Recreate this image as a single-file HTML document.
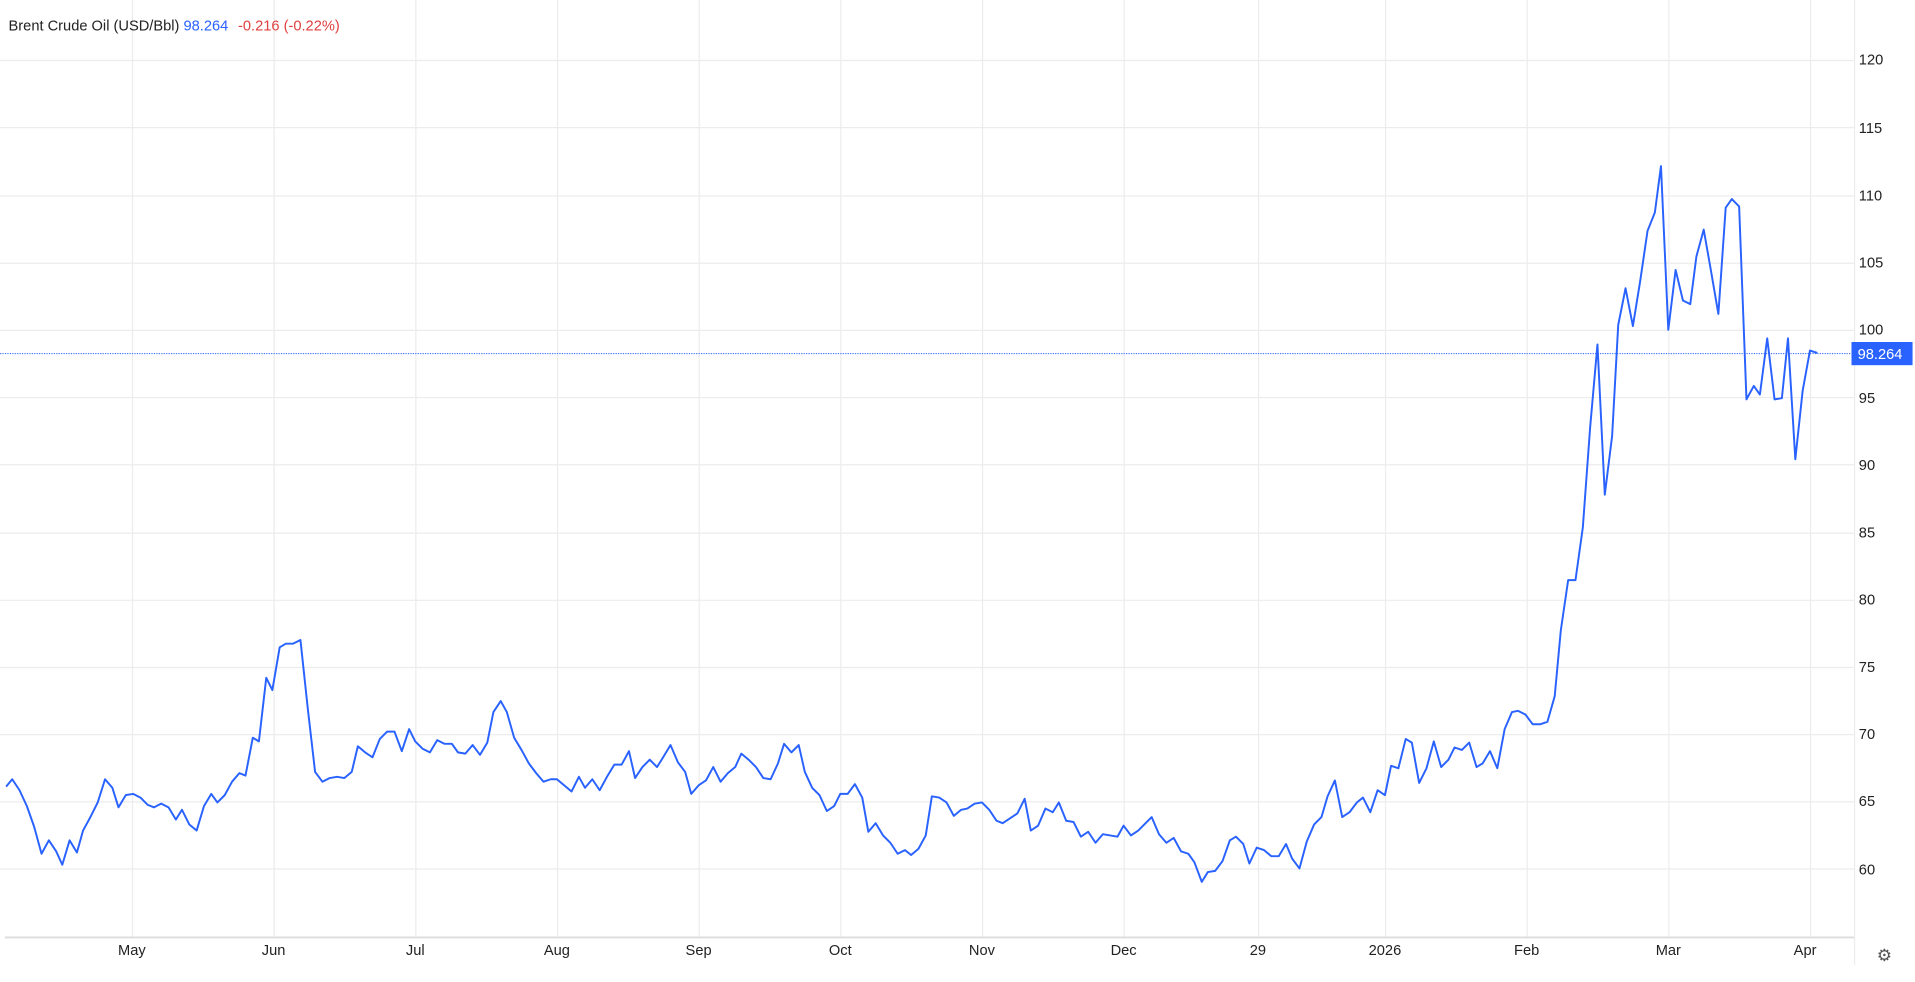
<!DOCTYPE html>
<html><head><meta charset="utf-8"><style>
html,body{margin:0;padding:0;background:#fff;width:1915px;height:982px;overflow:hidden}
svg{display:block}
text{font-family:"Liberation Sans",Arial,sans-serif}
</style></head><body>
<svg width="1915" height="982" viewBox="0 0 1568 804" preserveAspectRatio="none">
<g stroke="#ececec" stroke-width="1">
<line x1="0" x2="1518" y1="49.5" y2="49.5"/><line x1="0" x2="1518" y1="104.5" y2="104.5"/>
<line x1="0" x2="1518" y1="160.5" y2="160.5"/><line x1="0" x2="1518" y1="215.5" y2="215.5"/>
<line x1="0" x2="1518" y1="270.5" y2="270.5"/><line x1="0" x2="1518" y1="325.5" y2="325.5"/>
<line x1="0" x2="1518" y1="380.5" y2="380.5"/><line x1="0" x2="1518" y1="436.5" y2="436.5"/>
<line x1="0" x2="1518" y1="491.5" y2="491.5"/><line x1="0" x2="1518" y1="546.5" y2="546.5"/>
<line x1="0" x2="1518" y1="601.5" y2="601.5"/><line x1="0" x2="1518" y1="656.5" y2="656.5"/>
<line x1="0" x2="1518" y1="711.5" y2="711.5"/>
<line x1="108.5" x2="108.5" y1="0" y2="768"/><line x1="224.5" x2="224.5" y1="0" y2="768"/>
<line x1="340.5" x2="340.5" y1="0" y2="768"/><line x1="456.5" x2="456.5" y1="0" y2="768"/>
<line x1="572.5" x2="572.5" y1="0" y2="768"/><line x1="688.5" x2="688.5" y1="0" y2="768"/>
<line x1="804.5" x2="804.5" y1="0" y2="768"/><line x1="920.5" x2="920.5" y1="0" y2="768"/>
<line x1="1030.5" x2="1030.5" y1="0" y2="768"/><line x1="1134.5" x2="1134.5" y1="0" y2="768"/>
<line x1="1250.5" x2="1250.5" y1="0" y2="768"/><line x1="1366.5" x2="1366.5" y1="0" y2="768"/>
<line x1="1482.5" x2="1482.5" y1="0" y2="768"/>
<line x1="1518.5" x2="1518.5" y1="0" y2="790"/>
</g>
<line x1="4" x2="1518" y1="767.5" y2="767.5" stroke="#ddd" stroke-width="1.5"/>
<line x1="0" x2="1518" y1="289.5" y2="289.5" stroke="#2962ff" stroke-width="0.8" stroke-dasharray="1,1"/>
<polyline fill="none" stroke="#2962ff" stroke-width="1.6" stroke-linejoin="round" points="5,644 10,638 16,647 22,660 28,677 34,699 40,688 46,697 51,708 57,688 63,698 68,680 74,669 80,657 86,638 92,645 97,661 103,651 109,650 115,653 121,659 126,661 132,658 138,661 144,671 149,663 155,675 161,680 167,660 173,650 178,657 184,651 190,640 196,633 201,635 207,604 212,607 218,555 223,565 229,530 234,527 240,527 246,524 252,580 258,632 264,640 270,637 276,636 282,637 288,632 293,611 299,616 305,620 311,605 317,599 323,599 329,615 335,597 340,607 346,613 352,616 358,606 364,609 370,609 375,616 381,617 387,610 393,618 399,608 404,583 410,574 415,583 421,604 427,614 433,625 439,633 445,640 451,638 456,638 462,643 468,648 474,636 479,645 485,638 491,647 497,636 503,626 509,626 515,615 520,637 526,628 532,622 538,628 543,620 549,610 555,624 561,632 566,650 572,643 578,639 584,628 590,640 596,633 602,628 607,617 613,622 619,628 625,637 631,638 637,625 642,609 648,616 654,610 659,632 665,645 671,651 677,664 683,660 688,650 694,650 700,642 706,653 711,681 717,674 723,684 729,690 735,699 741,696 746,700 752,695 758,684 763,652 769,653 775,657 781,668 787,663 792,662 798,658 804,657 810,663 816,672 821,674 827,670 833,666 839,654 844,680 850,676 856,662 862,665 867,657 873,672 879,673 885,685 891,681 897,690 903,683 909,684 915,685 920,676 926,684 932,680 938,674 943,669 949,683 955,690 961,686 967,697 973,699 978,706 984,722 989,714 995,713 1001,705 1007,688 1012,685 1018,691 1023,707 1029,694 1035,696 1041,701 1047,701 1053,691 1058,703 1064,711 1070,689 1076,675 1082,669 1087,652 1093,639 1099,669 1105,665 1111,657 1116,653 1122,665 1128,647 1134,651 1139,627 1145,629 1151,605 1156,608 1162,641 1168,629 1174,607 1180,628 1186,622 1191,612 1197,614 1203,608 1209,628 1214,625 1220,615 1226,629 1232,597 1238,583 1243,582 1249,585 1255,593 1261,593 1267,591 1273,570 1278,516 1284,475 1290,475 1296,432 1302,350 1308,282 1314,405 1320,357 1325,266 1331,236 1337,267 1343,230 1349,189 1355,174 1360,136 1366,270 1372,221 1378,246 1384,249 1389,210 1395,188 1401,222 1407,257 1413,170 1418,163 1424,169 1430,327 1436,316 1441,323 1447,277 1453,327 1459,326 1464,277 1470,376 1476,320 1482,287 1488,289"/>
<g font-size="12" fill="#222">
<text x="1522" y="53">120</text><text x="1522" y="109">115</text><text x="1522" y="164">110</text>
<text x="1522" y="219">105</text><text x="1522" y="274">100</text><text x="1522" y="330">95</text>
<text x="1522" y="385">90</text><text x="1522" y="440">85</text><text x="1522" y="495">80</text>
<text x="1522" y="550">75</text><text x="1522" y="605">70</text><text x="1522" y="660">65</text>
<text x="1522" y="716">60</text>
</g>
<rect x="1516" y="280" width="50" height="19" fill="#2962ff"/>
<text x="1521" y="294" font-size="12" fill="#fff">98.264</text>
<g font-size="12" fill="#222" text-anchor="middle">
<text x="108" y="782">May</text><text x="224" y="782">Jun</text><text x="340" y="782">Jul</text>
<text x="456" y="782">Aug</text><text x="572" y="782">Sep</text><text x="688" y="782">Oct</text>
<text x="804" y="782">Nov</text><text x="920" y="782">Dec</text><text x="1030" y="782">29</text>
<text x="1134" y="782">2026</text><text x="1250" y="782">Feb</text><text x="1366" y="782">Mar</text>
<text x="1478" y="782">Apr</text>
</g>
<text x="1543" y="787" font-size="14" fill="#555" text-anchor="middle">⚙</text>
<text x="7" y="25" font-size="12"><tspan fill="#222">Brent Crude Oil (USD/Bbl) </tspan><tspan fill="#2962ff">98.264</tspan><tspan fill="#e04040" dx="8">-0.216 (-0.22%)</tspan></text>
</svg>
</body></html>
